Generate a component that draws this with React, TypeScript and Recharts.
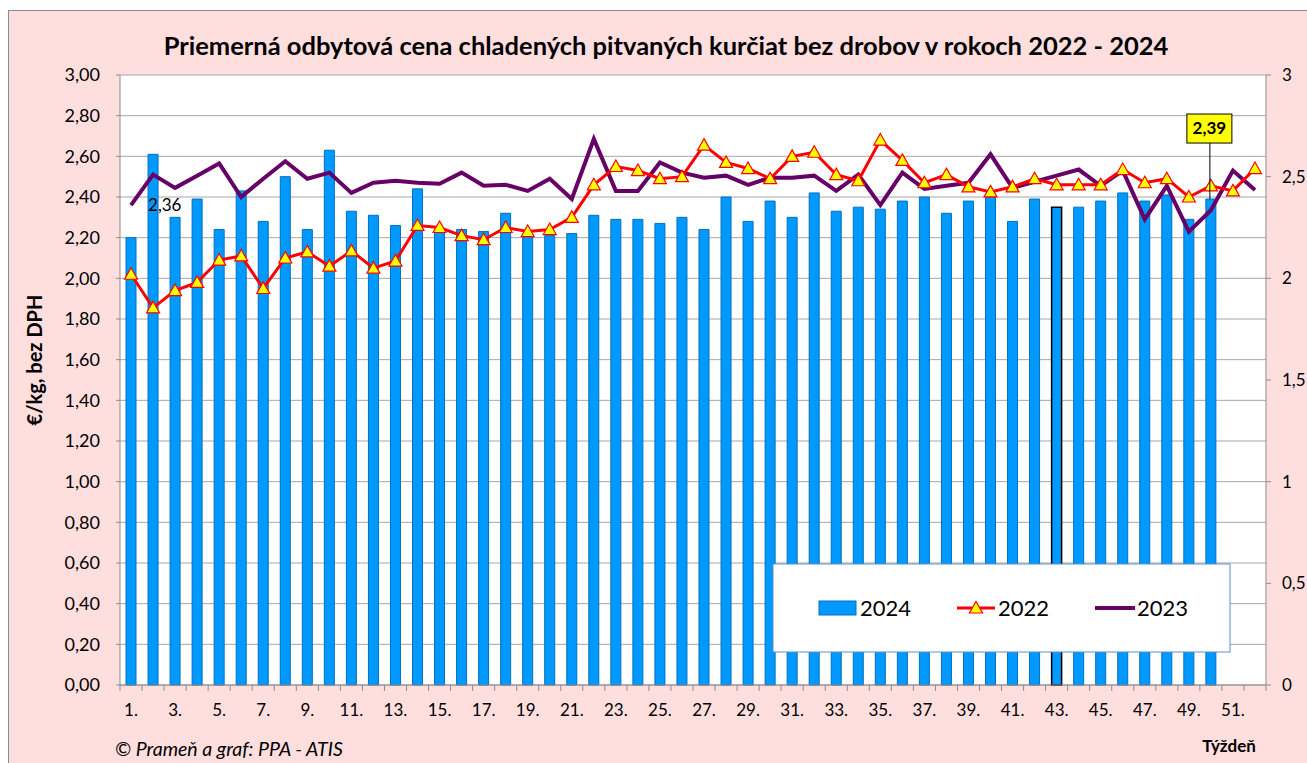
import { ComposedChart, Bar, Line, XAxis, YAxis, CartesianGrid, Cell } from "recharts"

const WEEKS = Array.from({ length: 52 }, (_, i) => `${i + 1}.`)

const PRICES_2024 = [
  2.2, 2.61, 2.3, 2.39, 2.24, 2.43, 2.28, 2.5, 2.24, 2.63,
  2.33, 2.31, 2.26, 2.44, 2.23, 2.24, 2.23, 2.32, 2.21, 2.21,
  2.22, 2.31, 2.29, 2.29, 2.27, 2.3, 2.24, 2.4, 2.28, 2.38,
  2.3, 2.42, 2.33, 2.35, 2.34, 2.38, 2.4, 2.32, 2.38, 2.4,
  2.28, 2.39, 2.35, 2.35, 2.38, 2.42, 2.38, 2.41, 2.29, 2.39,
  null, null,
]

const PRICES_2022 = [
  2.02, 1.855, 1.94, 1.98, 2.09, 2.11, 1.95, 2.1, 2.13, 2.06,
  2.135, 2.05, 2.085, 2.26, 2.25, 2.21, 2.19, 2.25, 2.23, 2.24,
  2.3, 2.46, 2.55, 2.53, 2.49, 2.5, 2.655, 2.57, 2.54, 2.49,
  2.6, 2.62, 2.51, 2.48, 2.68, 2.58, 2.47, 2.51, 2.45, 2.425,
  2.45, 2.49, 2.46, 2.46, 2.46, 2.535, 2.47, 2.49, 2.4, 2.455,
  2.43, 2.54,
]

const PRICES_2023 = [
  2.36, 2.51, 2.445, 2.505, 2.565, 2.4, 2.49, 2.576, 2.49, 2.52,
  2.42, 2.47, 2.48, 2.47, 2.465, 2.52, 2.455, 2.46, 2.43, 2.49,
  2.39, 2.685, 2.43, 2.43, 2.57, 2.52, 2.495, 2.505, 2.46, 2.495,
  2.495, 2.505, 2.43, 2.51, 2.36, 2.52, 2.44, 2.455, 2.47, 2.61,
  2.445, 2.475, 2.505, 2.535, 2.455, 2.53, 2.29, 2.455, 2.23, 2.335,
  2.53, 2.435,
]

const LEFT_TICKS = [0, 0.2, 0.4, 0.6, 0.8, 1, 1.2, 1.4, 1.6, 1.8, 2, 2.2, 2.4, 2.6, 2.8, 3]
const RIGHT_TICKS = [0, 0.5, 1, 1.5, 2, 2.5, 3]

const HIGHLIGHT_WEEK = 43
const LABELED_WEEK = 50

const chartData = WEEKS.map((week, i) => ({
  week,
  y2024: PRICES_2024[i],
  y2022: PRICES_2022[i],
  y2023: PRICES_2023[i],
}))

const FONT = "Lato, 'Open Sans', sans-serif"
const PLOT_LEFT = 120
const PLOT_RIGHT = 1266
const BAND = (PLOT_RIGHT - PLOT_LEFT) / WEEKS.length
const AXIS_GRAY = "#8c8c8c"

const comma = (v: number, digits?: number) =>
  (digits === undefined ? String(v) : v.toFixed(digits)).replace(".", ",")

function WeekTick(props: any) {
  const { x, y, payload, index } = props
  const weekNo = index + 1
  return (
    <g>
      <line x1={x - BAND / 2} x2={x - BAND / 2} y1={y} y2={y + 6} stroke={AXIS_GRAY} />
      {index === WEEKS.length - 1 && (
        <line x1={x + BAND / 2} x2={x + BAND / 2} y1={y} y2={y + 6} stroke={AXIS_GRAY} />
      )}
      {weekNo % 2 === 1 && (
        <text x={x} y={y + 31} textAnchor="middle" fontSize={17} fill="#000" fontFamily={FONT}>
          {payload.value}
        </text>
      )}
    </g>
  )
}

function TriangleDot(props: any) {
  const { cx, cy, index } = props
  if (cx == null || cy == null) return <g key={index} />
  return (
    <path
      key={index}
      d={`M${cx},${cy - 6.5} L${cx + 6.5},${cy + 5} L${cx - 6.5},${cy + 5} Z`}
      fill="#FFFF00"
      stroke="#FF0000"
      strokeWidth={1.2}
    />
  )
}

function BarValueLabel(props: any) {
  const { x, y, width, index, value } = props
  if (index !== LABELED_WEEK - 1) return null
  const cx = x + width / 2 - 1
  const boxBottom = y - 56
  return (
    <g>
      <line x1={cx} x2={cx} y1={boxBottom} y2={y} stroke="#000" strokeWidth={1} />
      <rect x={cx - 23} y={boxBottom - 29} width={45} height={29} fill="#FFFF00" stroke="#000" strokeWidth={1} />
      <text x={cx - 0.5} y={boxBottom - 9} textAnchor="middle" fontSize={17} fontWeight="bold" fill="#000" fontFamily={FONT}>
        {comma(value, 2)}
      </text>
    </g>
  )
}

function FirstPointLabel(props: any) {
  const { x, y, index, value } = props
  if (index !== 0) return null
  return (
    <text x={x + 17} y={y + 6} fontSize={17} fill="#000" fontFamily={FONT}>
      {comma(value, 2)}
    </text>
  )
}

export default function App() {
  return (
    <div style={{ position: "absolute", left: 0, top: 0, width: 1307, height: 763, background: "#fff", overflow: "hidden" }}>
      <div
        style={{
          position: "absolute",
          left: 8,
          top: 10,
          width: 1310,
          height: 770,
          background: "#FFDEDE",
          border: "1px solid #8c8c8c",
          boxSizing: "border-box",
        }}
      />
      <div style={{ position: "absolute", left: 0, top: 0 }}>
        <ComposedChart
          width={1307}
          height={763}
          data={chartData}
          margin={{ top: 75, right: 0, bottom: 0, left: 0 }}
          style={{ fontFamily: FONT }}
        >
          <CartesianGrid yAxisId="left" vertical={false} stroke="#a6a6a6" fill="#ffffff" fillOpacity={1} />
          <XAxis
            dataKey="week"
            height={78}
            interval={0}
            tickSize={0}
            tickMargin={0}
            tickLine={false}
            axisLine={{ stroke: AXIS_GRAY }}
            tick={<WeekTick />}
          />
          <YAxis
            yAxisId="left"
            width={120}
            domain={[0, 3]}
            ticks={LEFT_TICKS}
            interval={0}
            tickSize={4}
            tickMargin={16}
            axisLine={{ stroke: AXIS_GRAY }}
            tickLine={{ stroke: AXIS_GRAY }}
            tick={{ fill: "#000", fontSize: 18 }}
            tickFormatter={(v: number) => comma(v, 2)}
          />
          <YAxis
            yAxisId="right"
            orientation="right"
            width={41}
            domain={[0, 3]}
            ticks={RIGHT_TICKS}
            interval={0}
            tickSize={5}
            tickMargin={11}
            axisLine={{ stroke: AXIS_GRAY }}
            tickLine={{ stroke: AXIS_GRAY }}
            tick={{ fill: "#000", fontSize: 17 }}
            tickFormatter={(v: number) => comma(v)}
          />
          <Bar
            yAxisId="left"
            dataKey="y2024"
            name="2024"
            barSize={10}
            fill="#0099FF"
            stroke="#0070C0"
            strokeWidth={1}
            isAnimationActive={false}
            label={<BarValueLabel />}
          >
            {chartData.map((d, i) => (
              <Cell
                key={d.week}
                stroke={i === HIGHLIGHT_WEEK - 1 ? "#000" : "#0070C0"}
                strokeWidth={i === HIGHLIGHT_WEEK - 1 ? 1.5 : 1}
              />
            ))}
          </Bar>
          <Line
            yAxisId="right"
            dataKey="y2023"
            name="2023"
            stroke="#660066"
            strokeWidth={4}
            dot={false}
            activeDot={false}
            isAnimationActive={false}
            label={<FirstPointLabel />}
          />
          <Line
            yAxisId="right"
            dataKey="y2022"
            name="2022"
            stroke="#FF0000"
            strokeWidth={3}
            dot={<TriangleDot />}
            activeDot={false}
            isAnimationActive={false}
          />
        </ComposedChart>
      </div>
      <svg width={1307} height={763} style={{ position: "absolute", left: 0, top: 0, pointerEvents: "none", fontFamily: FONT }}>
        <text x={666} y={55} textAnchor="middle" fontSize={25.5} fontWeight="bold" fill="#000">
          Priemerná odbytová cena chladených pitvaných kurčiat bez drobov v rokoch 2022 - 2024
        </text>
        <text
          x={0}
          y={0}
          transform="translate(42, 360) rotate(-90)"
          textAnchor="middle"
          fontSize={20}
          fontWeight="bold"
          fill="#000"
        >
          €/kg, bez DPH
        </text>
        <text x={115} y={756} fontSize={19.5} fontStyle="italic" fill="#000">
          © Prameň a graf: PPA - ATIS
        </text>
        <text x={1229} y={752} textAnchor="middle" fontSize={17} fontWeight="bold" fill="#000">
          Týždeň
        </text>
        <g>
          <rect x={773} y={564} width={457} height={88} fill="#fff" stroke="#5b8fd0" strokeWidth={1} />
          <rect x={819} y={601} width={37} height={14} fill="#0099FF" stroke="#0070C0" strokeWidth={1} />
          <text x={860} y={616} fontSize={22} fill="#000">2024</text>
          <line x1={957} x2={995} y1={608} y2={608} stroke="#FF0000" strokeWidth={3} />
          <TriangleDot cx={976} cy={608} index={0} />
          <text x={998} y={616} fontSize={22} fill="#000">2022</text>
          <line x1={1095} x2={1135} y1={608} y2={608} stroke="#660066" strokeWidth={4} />
          <text x={1137} y={616} fontSize={22} fill="#000">2023</text>
        </g>
      </svg>
    </div>
  )
}
